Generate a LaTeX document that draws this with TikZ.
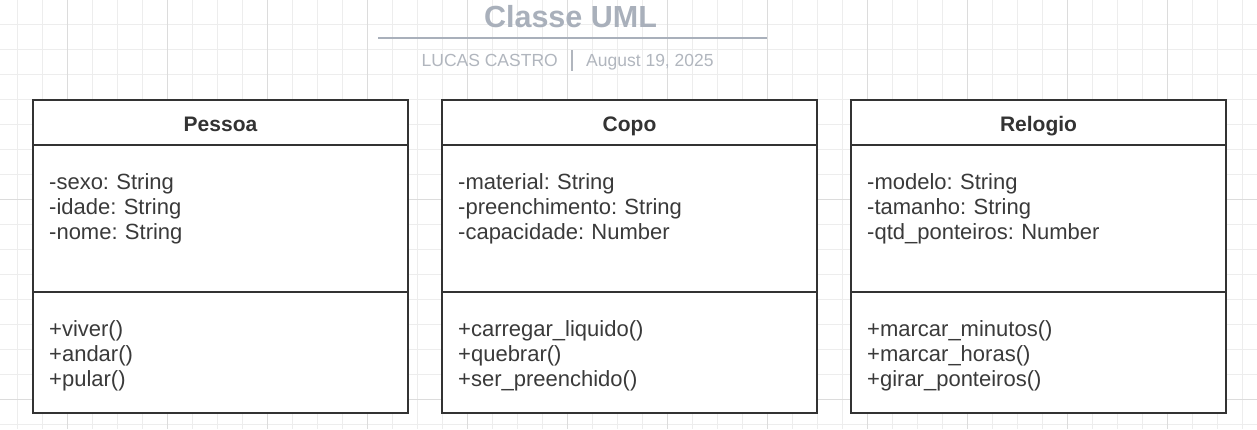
\documentclass[tikz,border=0pt]{standalone}
\usepackage{fontspec}
\setmainfont{Liberation Sans}
\usetikzlibrary{positioning}

\definecolor{gridminor}{HTML}{EDEDED}
\definecolor{gridmajor}{HTML}{DCDCDC}
\definecolor{titlegray}{HTML}{A9B0BB}
\definecolor{subgray}{HTML}{B1B6BE}
\definecolor{boxline}{HTML}{333333}
\definecolor{membertxt}{HTML}{3A3A3A}

\tikzset{
  umlhead/.style={draw=boxline, line width=2.8pt, fill=white, minimum width=375pt, minimum height=45pt,
    inner sep=0pt, outer sep=0pt, text height=17pt, text depth=0pt,
    font=\fontsize{21}{25}\selectfont\bfseries, text=boxline},
  umlpart/.style={draw=boxline, line width=2.8pt, fill=white, minimum width=375pt, inner sep=0pt, outer sep=0pt},
  members/.style={anchor=base west, inner sep=0pt, text width=340pt, align=left,
    font=\fontsize{22}{25}\selectfont\frenchspacing, text=membertxt},
}

\begin{document}
\begin{tikzpicture}[x=1pt, y=-1pt]
    \useasboundingbox (0,0) rectangle (1257,429);
    \fill[white] (0,0) rectangle (1257,429);

    % Background grid
    \foreach \x in {17,42,...,1257} \draw[gridminor, line width=1pt] (\x,0) -- (\x,429);
    \foreach \y in {-1,24,...,429} \draw[gridminor, line width=1pt] (0,\y) -- (1257,\y);
    \foreach \x in {67,167,...,1257} \draw[gridmajor, line width=1pt] (\x,0) -- (\x,429);
    \foreach \y in {199,399} \draw[gridmajor, line width=1pt] (0,\y) -- (1257,\y);

    % Title block
    \node[anchor=base, inner sep=0pt, text=titlegray, font=\fontsize{30.5}{30}\selectfont\bfseries] (title) at (570.5,27) {Classe UML};
    \draw[titlegray, line width=2.5pt] (378,38) -- (767,38);
    \node[anchor=base east, inner sep=0pt, text=subgray, font=\fontsize{17.5}{20}\selectfont] (author) at (558,66) {LUCAS CASTRO};
    \node[anchor=base west, inner sep=0pt, text=subgray, font=\fontsize{17.5}{20}\selectfont] (date) at (586,66) {August 19, 2025};
    \draw[subgray, line width=1.5pt] (572,50) -- (572,71);

    % Pessoa
    \node[umlhead] (pessoa) at (220.5,122.5) {Pessoa};
    \node[umlpart, minimum height=147pt, below=0pt of pessoa] (pessoa-attr) {};
    \node[umlpart, minimum height=121pt, below=0pt of pessoa-attr] (pessoa-meth) {};
    \node[members] (pessoa-attr-txt) at ([xshift=16pt, yshift=-44pt] pessoa-attr.north west)
        {-sexo: String\\-idade: String\\-nome: String};
    \node[members] (pessoa-meth-txt) at ([xshift=16pt, yshift=-44pt] pessoa-meth.north west)
        {+viver()\\+andar()\\+pular()};

    % Copo
    \node[umlhead] (copo) at (629.5,122.5) {Copo};
    \node[umlpart, minimum height=147pt, below=0pt of copo] (copo-attr) {};
    \node[umlpart, minimum height=121pt, below=0pt of copo-attr] (copo-meth) {};
    \node[members] (copo-attr-txt) at ([xshift=16pt, yshift=-44pt] copo-attr.north west)
        {-material: String\\-preenchimento: String\\-capacidade: Number};
    \node[members] (copo-meth-txt) at ([xshift=16pt, yshift=-44pt] copo-meth.north west)
        {+carregar\_liquido()\\+quebrar()\\+ser\_preenchido()};

    % Relogio
    \node[umlhead] (relogio) at (1038.5,122.5) {Relogio};
    \node[umlpart, minimum height=147pt, below=0pt of relogio] (relogio-attr) {};
    \node[umlpart, minimum height=121pt, below=0pt of relogio-attr] (relogio-meth) {};
    \node[members] (relogio-attr-txt) at ([xshift=16pt, yshift=-44pt] relogio-attr.north west)
        {-modelo: String\\-tamanho: String\\-qtd\_ponteiros: Number};
    \node[members] (relogio-meth-txt) at ([xshift=16pt, yshift=-44pt] relogio-meth.north west)
        {+marcar\_minutos()\\+marcar\_horas()\\+girar\_ponteiros()};
\end{tikzpicture}
\end{document}
